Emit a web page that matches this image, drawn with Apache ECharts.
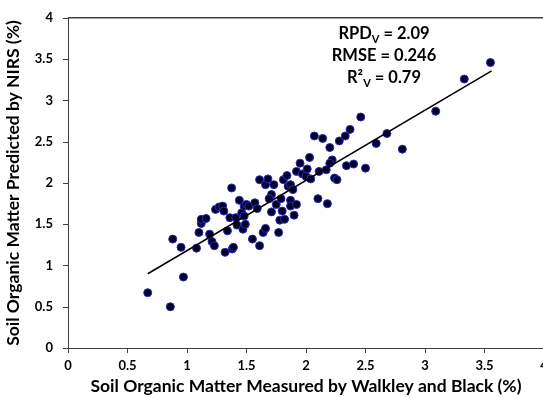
<!DOCTYPE html>
<html>
<head>
<meta charset="utf-8">
<script src="https://cdn.jsdelivr.net/npm/echarts@6/dist/echarts.min.js"></script>
<style>html,body{margin:0;padding:0;background:#fff}#c{width:543px;height:398px}</style>
</head>
<body>
<div id="c"></div>
<script>
// Measured (Walkley & Black) vs NIRS-predicted soil organic matter (%)
const measured = [0.67,0.86,0.88,0.95,0.97,1.08,1.10,1.12,1.12,1.16,1.19,1.21,1.23,1.24,1.27,1.30,1.31,1.32,1.34,1.36,1.375,1.38,1.39,1.41,1.42,1.44,1.46,1.47,1.48,1.49,1.48,1.50,1.52,1.55,1.57,1.59,1.61,1.61,1.64,1.66,1.66,1.68,1.71,1.69,1.71,1.73,1.75,1.77,1.78,1.79,1.80,1.82,1.81,1.84,1.85,1.87,1.87,1.87,1.89,1.90,1.92,1.92,1.97,2.00,2.04,2.10,2.11,2.18,2.24,2.26,2.17,2.50,2.07,2.14,2.28,2.20,2.03,1.95,2.01,2.22,2.20,2.33,2.37,2.46,2.34,2.40,2.59,2.68,2.81,3.09,3.33,3.55];
const predicted = [0.67,0.50,1.32,1.22,0.86,1.21,1.40,1.51,1.56,1.57,1.38,1.29,1.24,1.68,1.71,1.72,1.66,1.16,1.42,1.58,1.94,1.20,1.22,1.58,1.49,1.79,1.64,1.44,1.60,1.50,1.72,1.74,1.72,1.32,1.76,1.69,1.24,2.04,1.40,1.45,1.98,2.05,1.86,1.81,1.65,1.98,1.74,1.40,1.55,1.81,1.66,1.56,2.04,2.09,1.96,1.98,1.79,1.72,1.92,1.61,1.74,2.14,2.11,2.08,2.05,1.81,2.14,1.75,2.06,2.04,2.16,2.18,2.57,2.54,2.51,2.43,2.31,2.24,2.17,2.28,2.24,2.57,2.65,2.80,2.21,2.23,2.48,2.60,2.41,2.87,3.26,3.46];
// Linear fit endpoints
const fitX = [0.67, 3.56];
const fitY = [0.90, 3.36];
// Axis ticks
const tickMin = 0, tickMax = 4, tickStep = 0.5;
const stats = ['RPD', '2.09', 'RMSE', '0.246', 'R²', '0.79'];

const chart = echarts.init(document.getElementById('c'));
const FONT = 'Lato';
const axisCol = '#404040';
chart.setOption({
  animation: false,
  grid: {left: 68, right: -1, top: 18, bottom: 50, containLabel: false, outerBoundsMode: 'none'},
  xAxis: {
    type: 'value', min: tickMin, max: tickMax, interval: tickStep,
    name: 'Soil Organic Matter Measured by Walkley and Black (%)',
    nameLocation: 'middle', nameGap: 28,
    nameTextStyle: {fontFamily: FONT, fontWeight: 'bold', fontSize: 17.5, color: '#000'},
    axisLine: {show: true, onZero: false, lineStyle: {color: axisCol, width: 1}},
    axisTick: {show: true, length: 5, lineStyle: {color: axisCol}},
    axisLabel: {fontFamily: FONT, fontWeight: 'bold', fontSize: 13, color: '#000', margin: 11, showMaxLabel: true, hideOverlap: false},
    splitLine: {show: false}
  },
  yAxis: {
    type: 'value', min: tickMin, max: tickMax, interval: tickStep,
    name: 'Soil Organic Matter Predicted by NIRS (%)',
    nameLocation: 'middle', nameGap: 46,
    nameTextStyle: {fontFamily: FONT, fontWeight: 'bold', fontSize: 17.5, color: '#000'},
    axisLine: {show: true, onZero: false, lineStyle: {color: axisCol, width: 1}},
    axisTick: {show: true, length: 5, lineStyle: {color: axisCol}},
    axisLabel: {fontFamily: FONT, fontWeight: 'bold', fontSize: 13, color: '#000', margin: 15},
    splitLine: {show: false}
  },
  series: [{
    type: 'scatter',
    data: measured.map((x, i) => [x, predicted[i]]),
    symbol: 'circle', symbolSize: 8,
    itemStyle: {color: '#000028', borderColor: '#2a2ab8', borderWidth: 1, opacity: 1},
    z: 2
  }, {
    type: 'line',
    data: fitX.map((x, i) => [x, fitY[i]]),
    symbol: 'none',
    lineStyle: {color: '#000', width: 1.5},
    z: 3
  }],
  graphic: [{
    id: 'stats', type: 'text', x: 384, y: 23, z: 10,
    style: {
      text: '{b|' + stats[0] + '}{s|V}{b| = ' + stats[1] + '}\n{b|' + stats[2] + ' = ' + stats[3] + '}\n{b|' + stats[4] + '}{s|V}{b| = ' + stats[5] + '}',
      align: 'center', textAlign: 'center',
      rich: {
        b: {fontFamily: FONT, fontWeight: 'bold', fontSize: 16.5, lineHeight: 22, color: '#000'},
        s: {fontFamily: FONT, fontWeight: 'bold', fontSize: 11, lineHeight: 10, verticalAlign: 'bottom', color: '#000'}
      }
    }
  }]
});
// Top border of the plot area, placed through the chart's own scales
const pL = chart.convertToPixel({xAxisIndex: 0, yAxisIndex: 0}, [tickMin, tickMax]);
const pR = chart.convertToPixel({xAxisIndex: 0, yAxisIndex: 0}, [tickMax, tickMax]);
chart.setOption({
  graphic: [{
    id: 'topBorder', type: 'rect', z: 20, silent: true,
    shape: {x: pL[0], y: Math.round(pL[1]) - 1, width: pR[0] - pL[0] + 2, height: 1.5},
    style: {fill: axisCol, stroke: null}
  }]
});
</script>
</body>
</html>
